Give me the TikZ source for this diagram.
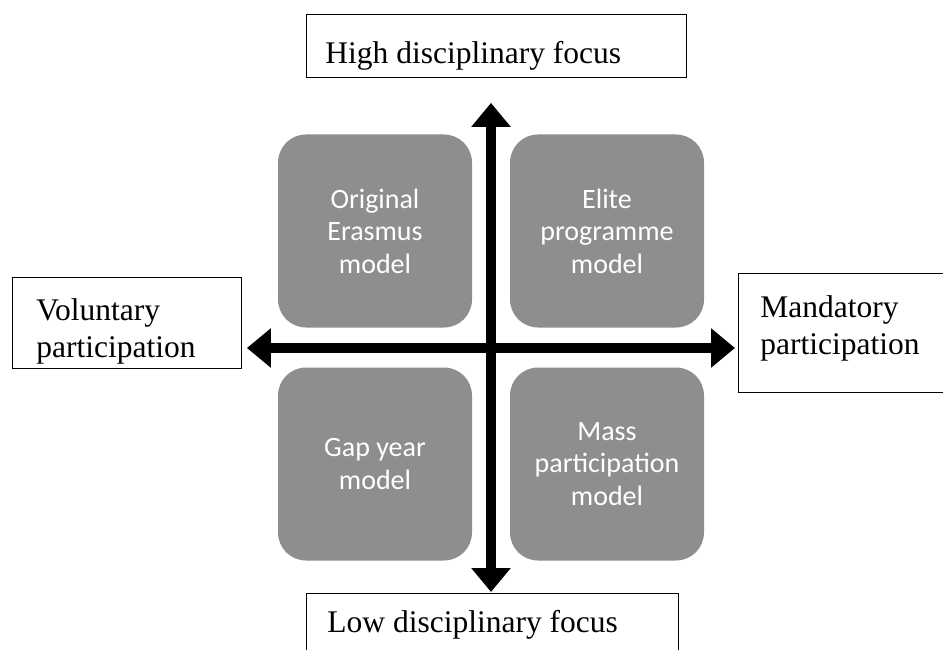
\documentclass[tikz,border=0pt]{standalone}
\usepackage{fontspec}
\setmainfont{Liberation Serif}
\newfontfamily\boxfont{Carlito}
\usetikzlibrary{arrows.meta}
\definecolor{quadgray}{HTML}{8E8E8E}
\tikzset{
  axislabel/.style={draw=black, line width=0.9pt, anchor=north west, align=flush left,
    inner ysep=0pt, font=\fontsize{31.5}{37.5}\selectfont},
  quadrant/.style={fill=quadgray, rounded corners=28pt, minimum width=194pt,
    minimum height=193pt, inner sep=0pt, align=center, text=white,
    font=\boxfont\fontsize{28}{32.5}\selectfont},
  axisarrow/.style={line width=10pt,
    {Triangle[width=38pt,length=24pt]}-{Triangle[width=38pt,length=24pt]}}
}
\begin{document}
\begin{tikzpicture}[x=1pt, y=-1pt]
  \useasboundingbox (0,0) rectangle (943,650);
  % axis end labels
  \node[axislabel, inner xsep=19pt, text width=342pt, text height=49pt, text depth=14pt]
    (high) at (306,14) {High disciplinary focus};
  \node[axislabel, inner xsep=24pt, text width=181pt, text height=43pt, text depth=48pt]
    (vol) at (12,277) {Voluntary\\participation};
  \node[axislabel, inner xsep=22pt, text width=196pt, text height=44pt, text depth=75pt]
    (man) at (738,273) {Mandatory\\participation};
  \node[axislabel, inner xsep=21pt, text width=330pt, text height=39pt, text depth=60pt]
    (low) at (306,593) {Low disciplinary focus};
  % quadrants
  \node[quadrant] (tl) at (375,231) {Original\\Erasmus\\model};
  \node[quadrant] (tr) at (607,231) {Elite\\programme\\model};
  \node[quadrant] (bl) at (375,464) {Gap year\\model};
  \node[quadrant] (br) at (607,464) {Mass\\participation\\model};
  % axes
  \coordinate (origin) at (491,348);
  \draw[axisarrow, shorten <=5pt, shorten >=3pt] (origin -| vol.east) -- (origin -| man.west);
  \draw[axisarrow, shorten <=25pt, shorten >=1pt] (origin |- high.south) -- (origin |- low.north);
\end{tikzpicture}
\end{document}
